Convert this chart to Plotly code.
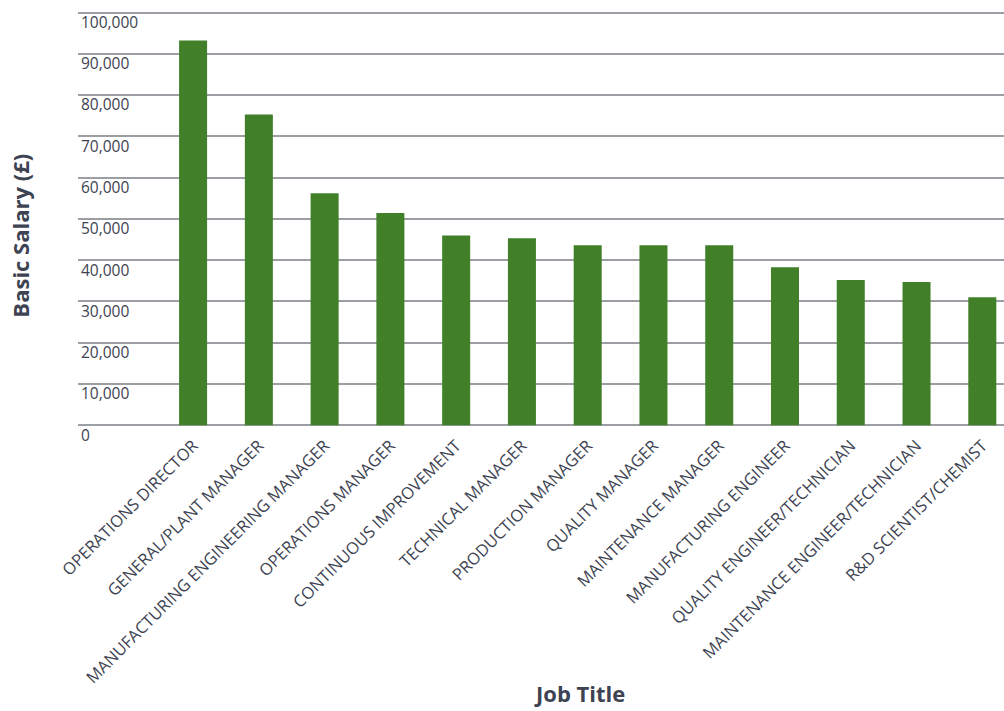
import plotly.graph_objects as go

job_titles = [
    "OPERATIONS DIRECTOR",
    "GENERAL/PLANT MANAGER",
    "MANUFACTURING ENGINEERING MANAGER",
    "OPERATIONS MANAGER",
    "CONTINUOUS IMPROVEMENT",
    "TECHNICAL MANAGER",
    "PRODUCTION MANAGER",
    "QUALITY MANAGER",
    "MAINTENANCE MANAGER",
    "MANUFACTURING ENGINEER",
    "QUALITY ENGINEER/TECHNICIAN",
    "MAINTENANCE ENGINEER/TECHNICIAN",
    "R&D SCIENTIST/CHEMIST",
]
basic_salary = [93200, 75300, 56200, 51400, 46000, 45300, 43600, 43600, 43600,
                38300, 35200, 34700, 31000]

tick_vals = [0, 10000, 20000, 30000, 40000, 50000, 60000, 70000, 80000, 90000, 100000]
tick_text = ["0", "10,000", "20,000", "30,000", "40,000", "50,000", "60,000",
             "70,000", "80,000", "90,000", "100,000"]

text_color = "#3d4352"
font_family = "Open Sans, Lato, sans-serif"

fig = go.Figure(
    go.Bar(
        x=job_titles,
        y=basic_salary,
        marker=dict(color="#418029", line=dict(width=0)),
        hoverinfo="x+y",
    )
)

fig.update_layout(
    width=1004,
    height=711,
    margin=dict(l=78, r=0, t=10, b=261),
    paper_bgcolor="white",
    plot_bgcolor="white",
    bargap=0.574,
    showlegend=False,
    font=dict(family=font_family, color=text_color),
    annotations=[
        dict(text="<b>Basic Salary (£)</b>", xref="paper", yref="paper",
             x=-0.0625, y=0.4875, xanchor="center", yanchor="middle",
             textangle=-90, showarrow=False,
             font=dict(size=22, color=text_color, family=font_family)),
        dict(text="<b>Job Title</b>", xref="paper", yref="paper",
             x=0.542, y=-0.592, xanchor="center", yanchor="bottom",
             showarrow=False,
             font=dict(size=22, color=text_color, family=font_family)),
    ],
)

fig.update_xaxes(
    range=[-1.75, 12.33],
    tickangle=-45,
    ticklabelstandoff=-18,
    tickfont=dict(size=16.5, color=text_color, family=font_family),
    showgrid=False,
    showline=False,
    zeroline=False,
    ticks="",
)

fig.update_yaxes(
    range=[-6000, 100605],
    tickvals=tick_vals,
    ticktext=tick_text,
    ticklabelposition="inside",
    ticklabelshift=10,
    tickfont=dict(size=15.5, color=text_color, family=font_family),
    showgrid=True,
    gridcolor="#9b9ea3",
    gridwidth=2,
    zeroline=False,
    showline=False,
    ticks="",
)

fig.write_html("out.html")
